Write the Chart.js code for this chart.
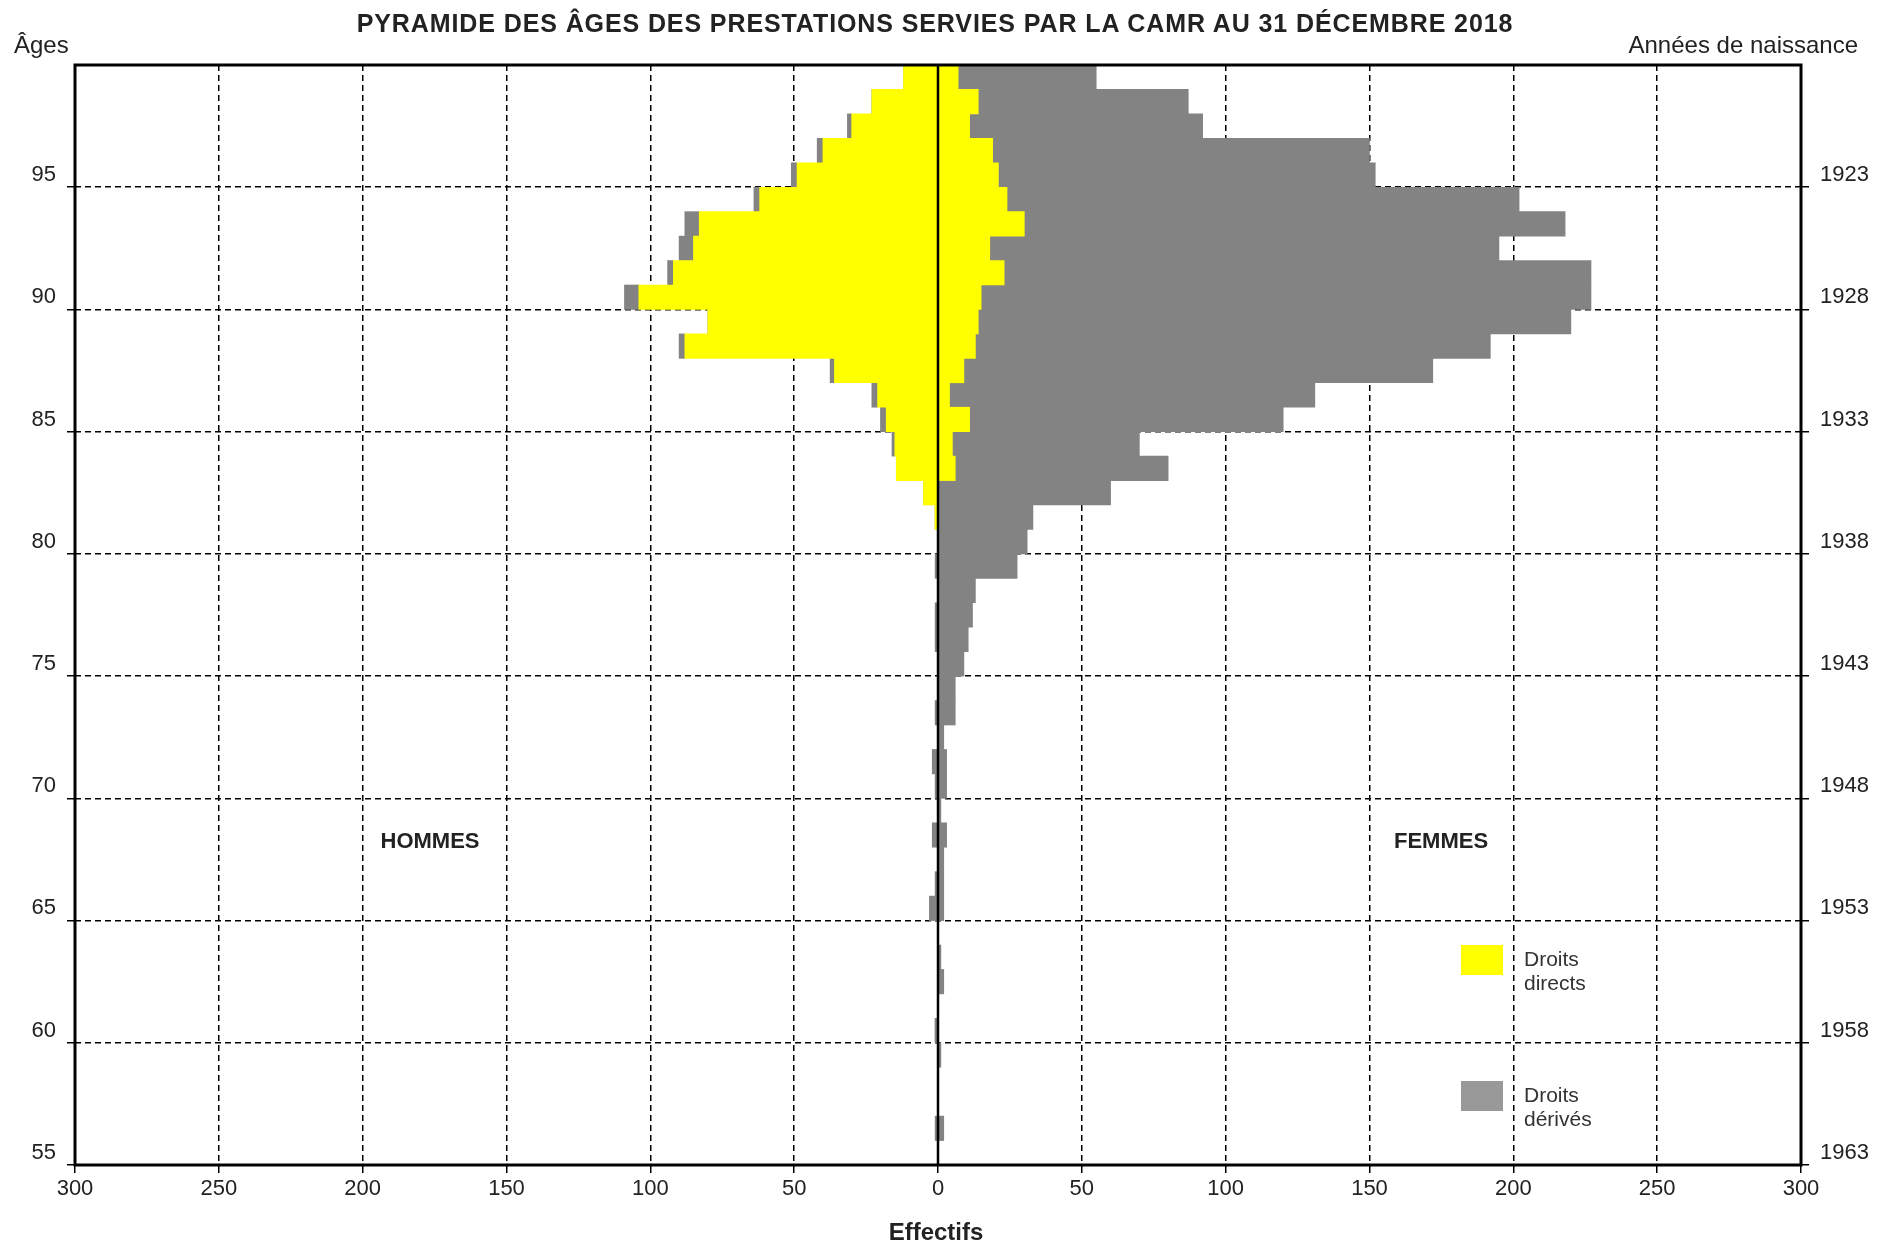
<!DOCTYPE html>
<html lang="fr">
<head>
<meta charset="utf-8">
<title>Pyramide des âges CAMR 2018</title>
<script src="https://cdn.jsdelivr.net/npm/chart.js@4.4.1/dist/chart.umd.min.js"></script>
<style>
  html, body { margin: 0; padding: 0; background: #fff; }
  #wrap { position: relative; width: 1883px; height: 1246px; overflow: hidden;
          font-family: 'Liberation Sans', Arial, sans-serif; color: #222; }
  #wrap canvas { position: absolute; left: 0; top: 0; }
  .txt { position: absolute; white-space: nowrap; line-height: 1; }
  .center { transform: translate(-50%, -50%); }
  .bold { font-weight: bold; }
  .box { position: absolute; width: 42px; height: 30px; }
  .leg { position: absolute; font-size: 21px; line-height: 24px; color: #333; }
</style>
</head>
<body>
<div id="wrap">
  <canvas id="pyramid" width="1883" height="1246"></canvas>
  <div class="txt center bold" style="left:935px; top:23px; font-size:25px; letter-spacing:0.9px;">PYRAMIDE DES ÂGES DES PRESTATIONS SERVIES PAR LA CAMR AU 31 DÉCEMBRE 2018</div>
  <div class="txt" style="left:14px; top:33px; font-size:24px;">Âges</div>
  <div class="txt" style="right:25px; top:33px; font-size:24px;">Années de naissance</div>
  <div class="txt center bold" style="left:430px; top:841px; font-size:22px;">HOMMES</div>
  <div class="txt center bold" style="left:1441px; top:841px; font-size:22px;">FEMMES</div>
  <div class="txt center bold" style="left:936px; top:1232px; font-size:24px;">Effectifs</div>
  <div class="box" style="left:1461px; top:945px; background:#ffff00;"></div>
  <div class="leg" style="left:1524px; top:947px;">Droits<br>directs</div>
  <div class="box" style="left:1461px; top:1081px; background:#999999;"></div>
  <div class="leg" style="left:1524px; top:1083px;">Droits<br>dérivés</div>
</div>
<script>
// âges 55 -> 99 (une barre par âge)
const ages = [55, 56, 57, 58, 59, 60, 61, 62, 63, 64,
              65, 66, 67, 68, 69, 70, 71, 72, 73, 74,
              75, 76, 77, 78, 79, 80, 81, 82, 83, 84,
              85, 86, 87, 88, 89, 90, 91, 92, 93, 94,
              95, 96, 97, 98, 99];

// hommes
const menDirects = [0, 0, 0, 0, 0, 0, 0, 0, 0, 0,
                    0, 0, 0, 0, 0, 0, 0, 0, 0, 0,
                    0, 0, 0, 0, 0, 0, 1, 5, 14.5, 15,
                    18, 21, 36, 88, 80, 104, 92, 85, 83, 62,
                    49, 40, 30, 23, 12];
const menDerived = [0, 1, 0, 0, 0, 1, 0, 0, 0, 0,
                    3, 1, 0, 2, 0, 1, 2, 0, 1, 0,
                    0, 1, 1, 0, 1, 0, 0, 0, 0, 1,
                    2, 2, 1.5, 2, 0, 5, 2, 5, 5, 2,
                    2, 2, 1.5, 0, 0];

// femmes
const womenDirects = [0, 0, 0, 0, 0, 0, 0, 0, 0, 0,
                      0, 0, 0, 0, 0, 0, 0, 0, 0, 0,
                      0, 0, 0, 0, 0, 0, 0, 0, 6, 5,
                      11, 4, 9, 13, 14, 15, 23, 18, 30, 24,
                      21, 19, 11, 14, 7];
const womenDerived = [0, 2, 0, 0, 1, 0, 0, 2, 1, 0,
                      2, 2, 2, 3, 1, 3, 3, 2, 6, 6,
                      9, 10.5, 12, 13, 27.5, 31, 33, 60, 74, 65,
                      109, 127, 163, 179, 206, 212, 204, 177, 188, 178,
                      131, 131, 81, 73, 48];

// graduations
const ageTicks = [55, 60, 65, 70, 75, 80, 85, 90, 95];
const birthYears = [1963, 1958, 1953, 1948, 1943, 1938, 1933, 1928, 1923];

const YELLOW = '#ffff00';
const GREY = '#838383';

function isFive(ctx) {
    return ctx.index < ages.length && ageTicks.includes(ages[ctx.index]);
}

// cadre + axe zéro par-dessus les barres
const framePlugin = {
    id: 'frame',
    afterDatasetsDraw(chart) {
        const {ctx, chartArea: a, scales} = chart;
        const x0 = scales.x.getPixelForValue(0);
        ctx.save();
        ctx.strokeStyle = '#000';
        ctx.lineWidth = 2.5;
        ctx.beginPath();
        ctx.moveTo(x0, a.top);
        ctx.lineTo(x0, a.bottom);
        ctx.stroke();
        ctx.lineWidth = 3;
        ctx.strokeRect(a.left, a.top, a.right - a.left, a.bottom - a.top);
        ctx.restore();
    }
};

const ctx = document.getElementById('pyramid').getContext('2d');
new Chart(ctx, {
    type: 'bar',
    data: {
        labels: ages,
        datasets: [
            { label: 'Hommes - droits directs', data: menDirects.map(v => -v), backgroundColor: YELLOW },
            { label: 'Femmes - droits directs', data: womenDirects, backgroundColor: YELLOW },
            { label: 'Hommes - droits dérivés', data: menDerived.map(v => -v), backgroundColor: GREY },
            { label: 'Femmes - droits dérivés', data: womenDerived, backgroundColor: GREY }
        ]
    },
    options: {
        indexAxis: 'y',
        responsive: false,
        animation: false,
        devicePixelRatio: 1,
        barPercentage: 1,
        categoryPercentage: 1,
        layout: { padding: { top: 65, left: 0, right: 0, bottom: 0 } },
        plugins: { legend: { display: false }, tooltip: { enabled: false } },
        font: { family: "'Liberation Sans', Arial, sans-serif" },
        scales: {
            x: {
                type: 'linear',
                stacked: true,
                min: -300,
                max: 300,
                afterFit(s) { s.height = 81; },
                ticks: {
                    stepSize: 50,
                    padding: 3,
                    color: '#222',
                    font: { size: 22, family: "'Liberation Sans', Arial, sans-serif" },
                    callback: v => Math.abs(v)
                },
                grid: {
                    color: '#000',
                    lineWidth: 1.5,
                    tickLength: 8,
                    tickColor: '#000'
                },
                border: { display: false, dash: c => (c.tick ? [6, 4] : []) }
            },
            y: {
                type: 'category',
                reverse: true,
                stacked: true,
                offset: true,
                afterFit(s) { s.width = 75; },
                ticks: {
                    autoSkip: false,
                    padding: 11,
                    color: '#222',
                    font: { size: 22, family: "'Liberation Sans', Arial, sans-serif" },
                    callback: (v, i) => (ageTicks.includes(ages[i]) ? String(ages[i]) : '')
                },
                grid: {
                    offset: true,
                    color: c => (isFive(c) ? '#000' : 'rgba(0,0,0,0)'),
                    lineWidth: 1.5,
                    tickLength: 8,
                    tickColor: c => (isFive(c) ? '#000' : 'rgba(0,0,0,0)')
                },
                border: { display: false, dash: c => (c.tick ? [6, 4] : []) }
            },
            yRight: {
                type: 'category',
                position: 'right',
                labels: ages,
                reverse: true,
                offset: true,
                afterFit(s) { s.width = 82; },
                ticks: {
                    autoSkip: false,
                    padding: 11,
                    color: '#222',
                    font: { size: 22, family: "'Liberation Sans', Arial, sans-serif" },
                    callback: (v, i) => {
                        const k = ageTicks.indexOf(ages[i]);
                        return k >= 0 ? String(birthYears[k]) : '';
                    }
                },
                grid: {
                    offset: true,
                    drawOnChartArea: false,
                    lineWidth: 1.5,
                    tickLength: 8,
                    color: c => (isFive(c) ? '#000' : 'rgba(0,0,0,0)'),
                    tickColor: c => (isFive(c) ? '#000' : 'rgba(0,0,0,0)')
                },
                border: { display: false }
            }
        }
    },
    plugins: [framePlugin]
});
</script>
</body>
</html>
